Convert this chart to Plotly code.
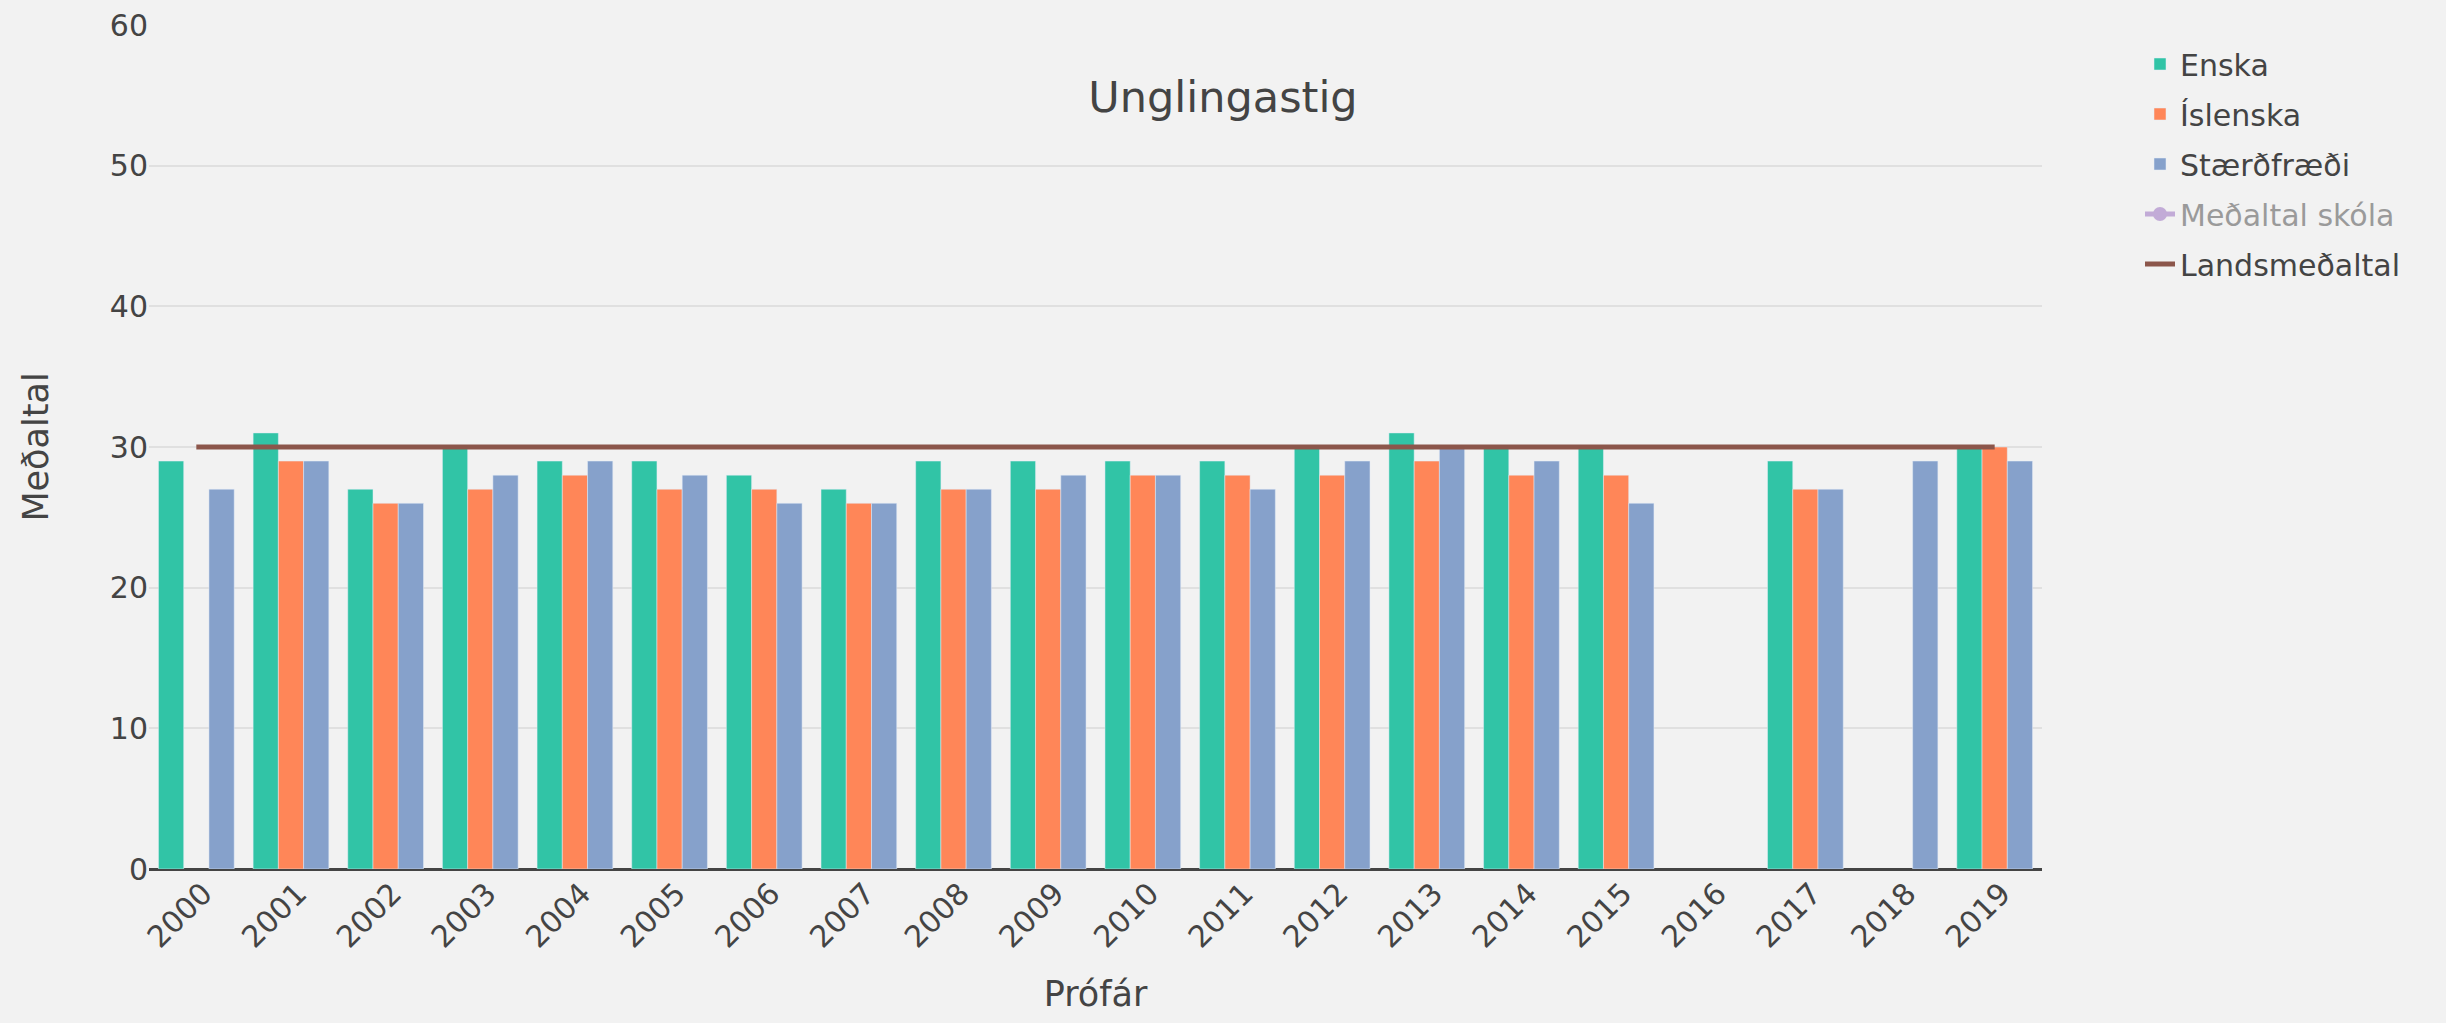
import plotly.graph_objects as go

years = [str(y) for y in range(2000, 2020)]

enska = [29, 31, 27, 30, 29, 29, 28, 27, 29, 29, 29, 29, 30, 31, 30, 30, None, 29, None, 30]
islenska = [None, 29, 26, 27, 28, 27, 27, 26, 27, 27, 28, 28, 28, 29, 28, 28, None, 27, None, 30]
staerdfraedi = [27, 29, 26, 28, 29, 28, 26, 26, 27, 28, 28, 27, 29, 30, 29, 26, None, 27, 29, 29]
medaltal_skola = [None] * 20
landsmedaltal = [30] * 20

FONT = "DejaVu Sans"
TXT = "#444"

fig = go.Figure()
fig.add_trace(go.Bar(name="Enska", x=years, y=enska, marker_color="#31c4a6", legendgroup="a"))
fig.add_trace(go.Bar(name="Íslenska", x=years, y=islenska, marker_color="#ff8658", legendgroup="b"))
fig.add_trace(go.Bar(name="Stærðfræði", x=years, y=staerdfraedi, marker_color="#86a1cb", legendgroup="c"))
fig.add_trace(go.Scatter(name="Meðaltal skóla", x=years, y=medaltal_skola, mode="lines+markers",
                         line=dict(color="#9467bd", width=5), marker=dict(size=14),
                         visible="legendonly", legendgroup="d"))
fig.add_trace(go.Scatter(name="Landsmeðaltal", x=years, y=landsmedaltal, mode="lines",
                         line=dict(color="#8c564b", width=5), legendgroup="e"))

fig.update_layout(
    width=2446, height=1023,
    paper_bgcolor="#f2f2f2", plot_bgcolor="#f2f2f2",
    margin=dict(l=149, r=404, t=25, b=154, autoexpand=False),
    font=dict(family=FONT, size=30, color=TXT),
    title=dict(text="Unglingastig", x=0.5, xref="container", y=1 - 97 / 1023, yref="container",
               yanchor="middle", xanchor="center", font=dict(size=43, color=TXT, family=FONT)),
    barmode="group", bargap=0.2, bargroupgap=0,
    legend=dict(x=2140 / 2446, xref="container", y=1 - 38 / 1023, yref="container",
                xanchor="left", yanchor="top", traceorder="grouped", tracegroupgap=8,
                font=dict(size=30, color=TXT, family=FONT), bgcolor="rgba(0,0,0,0)"),
    xaxis=dict(title=dict(text="Prófár", font=dict(size=35, color=TXT, family=FONT), standoff=27),
               tickangle=-45, tickfont=dict(size=30, color=TXT, family=FONT),
               ticklabelshift=7,
               showgrid=False, showline=False, zeroline=False),
    yaxis=dict(title=dict(text="Meðaltal", font=dict(size=35, color=TXT, family=FONT), standoff=50),
               range=[0, 60], dtick=10, tickfont=dict(size=30, color=TXT, family=FONT),
               gridcolor="#e0e0e0", gridwidth=2,
               zeroline=True, zerolinecolor="#444", zerolinewidth=3),
)

fig.write_html(
    "out.html",
    config={"displayModeBar": False},
    post_script="document.body.style.margin='0';document.body.style.background='#f2f2f2';",
)
